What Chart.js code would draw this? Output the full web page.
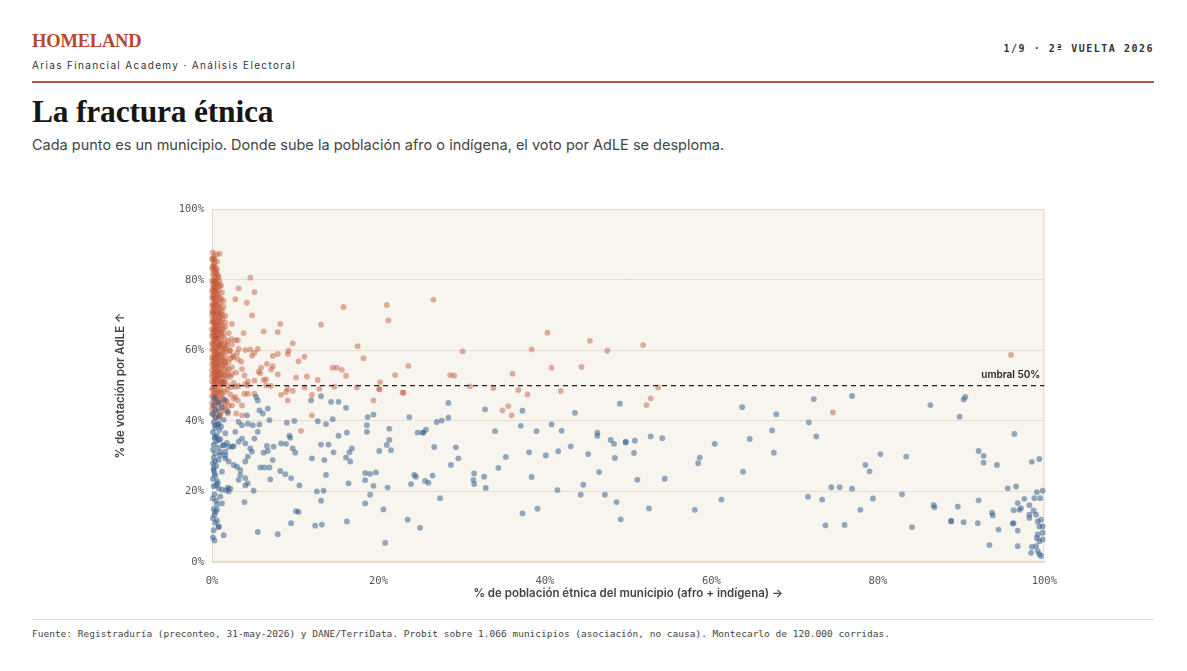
<!DOCTYPE html>
<html lang="es">
<head>
<meta charset="utf-8">
<title>La fractura étnica</title>
<script src="https://cdn.jsdelivr.net/npm/chart.js@4.4.1/dist/chart.umd.min.js"></script>
<style>
  html, body { margin: 0; padding: 0; background: #fff; }
  body { width: 1187px; height: 671px; position: relative; overflow: hidden;
         font-family: Inter, 'Noto Sans', sans-serif; color: #1a1a1a; }
  .brand { position: absolute; left: 32px; top: 31px; font-family: 'Liberation Serif', serif;
           font-weight: 700; font-size: 18.5px; color: #b5482e; letter-spacing: -0.2px; }
  .org { position: absolute; left: 32px; top: 59px; font-size: 10px; letter-spacing: 1.35px; color: #333; }
  .page { position: absolute; right: 33px; top: 43px; font-family: 'DejaVu Sans Mono', monospace;
          font-weight: 700; font-size: 10px; letter-spacing: 1.5px; color: #333; }
  .rule { position: absolute; left: 32px; width: 1122px; top: 81px; height: 2px; background: #b5533c; }
  h1 { position: absolute; left: 32px; top: 94px; margin: 0; font-family: 'Liberation Serif', serif;
       font-size: 31.5px; font-weight: 700; color: #161616; letter-spacing: -0.2px; }
  .sub { position: absolute; left: 32px; top: 136px; font-size: 14.5px; color: #444; }
  .wrap { position: absolute; left: 110px; top: 195px; width: 960px; height: 409px; }
  .foot-rule { position: absolute; left: 32px; width: 1122px; top: 619px; height: 1px; background: #dcdcdc; }
  .foot { position: absolute; left: 32px; top: 628px; font-family: 'DejaVu Sans Mono', monospace;
          font-size: 9.5px; color: #444; }
</style>
</head>
<body>
<div class="brand">HOMELAND</div>
<div class="org">Arias Financial Academy · Análisis Electoral</div>
<div class="page">1/9 · 2ª VUELTA 2026</div>
<div class="rule"></div>
<h1>La fractura étnica</h1>
<div class="sub">Cada punto es un municipio. Donde sube la población afro o indígena, el voto por AdLE se desploma.</div>
<div class="wrap"><canvas id="scatter"></canvas></div>
<div class="foot-rule"></div>
<div class="foot">Fuente: Registraduría (preconteo, 31-may-2026) y DANE/TerriData. Probit sobre 1.066 municipios (asociación, no causa). Montecarlo de 120.000 corridas.</div>

<script>
// ── datos: [% población étnica, % votación AdLE] ──
const ticksX = [0, 20, 40, 60, 80, 100];
const ticksY = [0, 20, 40, 60, 80, 100];
const umbral = 50;

// municipios en naranja (columna densa cerca de 0% + dispersos)
const columnaAdle = [
  [0.1,87.8],[0.5,87.2],[0.9,87.4],[0.2,86.5],[0.1,85.6],[0.3,84.8],[0.1,84.0],[0.4,83.5],[0.2,82.8],[0.5,82.2],
  [0.1,81.6],[0.3,81.0],[0.6,80.5],[0.2,80.0],[0.4,79.4],[0.1,78.9],[0.7,78.6],[0.3,78.2],[1.1,78.4],[0.5,77.7],
  [0.1,77.3],[0.8,77.0],[0.3,76.6],[0.6,76.2],[0.1,75.8],[0.4,75.4],[0.9,75.0],[0.2,74.6],[1.4,74.0],[0.6,74.2],
  [0.3,73.7],[0.1,73.2],[0.8,72.9],[0.5,72.5],[0.2,72.1],[1.0,71.8],[0.4,71.4],[0.7,71.0],[0.1,70.6],[1.2,70.2],
  [0.5,70.0],[1.6,69.8],[0.3,69.5],[0.8,69.1],[0.1,68.7],[0.6,68.3],[1.1,68.0],[1.6,67.9],[0.3,67.6],[0.9,67.2],
  [0.5,66.8],[0.2,66.4],[1.3,66.1],[0.7,65.8],[0.4,65.4],[2.0,64.9],[0.1,65.0],[1.0,64.6],[0.6,64.2],[0.3,63.9],
  [1.5,63.6],[0.8,63.3],[2.3,63.2],[0.2,62.9],[2.8,62.9],[3.1,62.9],[0.5,62.5],[1.2,62.2],[0.9,61.8],[0.1,61.5],
  [1.8,61.3],[0.6,61.0],[0.3,60.6],[1.4,60.4],[2.1,60.0],[0.8,59.8],[0.4,59.4],[1.1,59.1],[0.2,58.7],[2.5,58.5],
  [0.7,58.3],[1.6,58.0],[0.5,57.6],[0.1,57.2],[1.0,57.0],[2.0,56.7],[0.3,56.5],[0.8,56.1],[1.4,55.8],[0.5,55.4],
  [2.4,55.2],[0.2,55.0],[1.1,54.7],[0.7,54.3],[1.8,54.0],[0.4,53.7],[0.1,53.4],[1.3,53.1],[0.9,52.8],[2.2,52.5],
  [0.6,52.3],[0.3,51.9],[1.6,51.6],[1.0,51.3],[0.5,51.0],[2.6,50.8],[0.2,50.6],[1.3,50.4],[0.8,50.2],[1.9,50.1],
  [0.4,49.8],[0.1,49.4],[1.1,49.0],[0.7,48.6],[1.5,48.2],[0.3,47.8],[2.2,47.5],[0.9,47.2],[0.5,46.8],[1.3,46.4],
  [0.2,46.0],[1.8,45.7],[0.7,45.3],[1.1,44.9],[0.4,44.5],[1.5,44.1],[0.8,43.6],[0.3,43.2],[1.2,42.8],[0.6,42.3],
  [1.0,41.8],[0.4,41.2],
  [0.0,86.0],[0.6,85.2],[0.0,83.2],[0.7,81.4],[0.0,79.8],[0.9,79.6],[0.0,76.8],[1.2,76.4],[0.0,74.9],[1.0,73.5],
  [0.0,72.6],[1.4,72.3],[0.0,71.2],[0.9,70.4],[0.0,69.9],[1.3,69.0],[0.0,68.0],[0.4,67.0],[1.6,66.6],[0.0,66.0],
  [1.1,65.3],[0.0,64.0],[0.5,63.5],[1.9,62.6],[0.0,62.0],[1.0,61.2],[2.4,61.7],[0.0,60.2],[1.7,59.5],[0.6,59.0],
  [0.0,58.0],[1.3,57.4],[2.2,57.8],[0.0,56.0],[1.7,55.5],[0.0,54.4],[0.9,54.0],[2.9,53.7],[0.0,52.6],[1.9,52.9],
  [0.4,52.0],[0.0,51.2],[1.4,50.9],[2.3,49.6],[0.0,48.8],[1.8,48.9],[0.5,48.0],[0.0,47.0],[2.6,46.3],[0.9,45.8],
  [0.0,45.0],[2.0,44.3],[0.0,43.5],[1.7,43.0],[0.0,42.0],[0.8,40.8],
  [0.3,85.9],[0.2,83.9],[0.6,83.0],[0.4,81.9],[0.8,80.9],[0.3,79.7],[0.6,79.0],[0.2,77.9],[0.9,78.1],[0.4,77.0],
  [0.7,75.6],[0.2,75.2],[1.1,74.7],[0.5,73.9],[0.3,72.8],[0.7,72.2],[1.2,71.2],[0.2,70.9],[0.6,70.5],[1.0,69.6],
  [0.4,68.9],[0.9,68.4],[0.2,67.9],[0.7,67.4],[1.2,67.0],[0.5,66.2],[0.9,65.9],[0.3,65.6],[1.4,65.0],[0.7,64.8],
  [0.2,64.4],[1.2,63.9],[0.6,63.6],[0.3,62.7],[1.0,62.5],[1.6,62.0],[0.4,61.7],[0.8,61.4],[1.2,60.8],[0.6,60.3],
  [0.2,59.9],[1.4,59.6],[0.9,58.8],[0.4,58.4],[1.2,58.2],[0.3,57.8],[0.8,57.3],[1.5,56.9],[0.6,56.7],[0.2,56.2],
  [1.1,55.9],[0.7,55.6],[0.4,55.1],[1.4,54.5],[0.6,54.1],[0.3,53.6],[1.1,53.3],[0.7,53.0],[0.4,52.6],[1.2,52.1],
  [0.8,51.7],[0.3,51.3],[1.1,50.7],[0.6,50.3],[0.3,49.1],[0.9,48.3],[0.2,47.4],[1.2,47.6],[0.6,46.5],[0.4,45.6]
];

const dispersosAdle = [
  [4.6,80.6],[3.2,77.6],[5.1,76.5],[2.8,74.5],[4.2,73.5],[4.8,69.9],[8.2,67.5],[2.4,67.5],[13.1,67.3],[15.8,72.3],
  [21.0,72.9],[21.2,68.5],[6.2,65.4],[7.9,65.2],[3.8,64.9],[9.7,62.0],[17.5,61.2],[18.2,57.8],[23.6,55.6],[22.0,53.0],
  [14.5,55.1],[15.0,55.1],[15.6,54.5],[16.1,52.8],[12.7,51.6],[20.2,51.0],[23.0,48.0],[11.4,52.6],[10.1,52.3],[9.1,59.0],
  [9.2,59.9],[7.9,59.0],[7.3,58.4],[5.5,60.4],[4.6,60.2],[4.0,60.1],[3.2,60.4],[5.1,59.3],[4.8,58.5],[11.1,58.2],
  [10.4,56.9],[6.6,56.2],[7.1,54.6],[7.3,55.5],[5.9,55.1],[5.6,54.0],[5.8,53.5],[7.9,53.2],[6.5,51.8],[6.2,51.6],
  [5.1,51.4],[4.3,51.2],[3.9,52.9],[3.6,54.7],[3.5,56.8],[3.1,57.5],[3.0,59.2],[9.7,48.5],[9.1,49.1],[6.5,50.1],
  [7.1,49.9],[4.3,50.1],[4.0,50.4],[3.2,49.9],[2.8,49.7],[11.1,49.5],[12.9,49.1],[14.7,49.7],[20.1,49.1],[17.4,49.5],
  [1.6,60.8],[2.2,59.9],[2.6,58.0],[1.6,56.6],[2.0,54.7],[2.4,53.3],[1.6,52.9],[1.4,51.0],
  [8.3,47.4],[8.9,48.2],[9.1,45.8],[12.0,47.4],[12.0,41.6],[10.7,37.2],[19.4,45.8],[22.9,48.0],[20.1,48.9],[2.8,46.8],
  [3.1,45.8],[3.6,44.4],[2.4,44.4],[1.9,42.1],[2.9,42.1],[3.9,47.7],[4.3,47.7],[5.1,47.7],[1.6,45.4],[3.6,41.6],
  [26.6,74.4],[40.3,65.0],[45.4,62.7],[51.8,61.5],[30.1,59.7],[38.4,60.3],[47.5,59.9],[28.6,53.0],[29.1,52.8],[36.1,53.4],
  [40.8,55.1],[44.4,55.3],[31.0,49.8],[33.8,49.3],[36.8,48.8],[37.9,47.5],[41.9,48.5],[53.6,49.5],[52.7,46.4],[52.2,44.5],
  [34.9,43.0],[35.6,44.2],[36.0,41.6],[96.0,58.7],[74.6,42.4]
];

// municipios en azul
const columnaRival = [
  [0.3,46.5],[1.5,46.0],[0.8,45.2],[0.2,44.4],[1.2,43.8],[0.5,43.0],[1.9,42.6],[0.1,42.0],[0.9,41.4],[0.4,40.8],
  [1.4,40.3],[0.2,39.6],[0.7,39.0],[1.1,38.4],[0.4,38.0],[0.9,37.4],[0.1,36.8],[1.6,36.5],[0.6,36.0],[0.3,35.2],
  [1.0,34.8],[0.5,34.2],[1.8,33.8],[0.2,33.3],[1.3,33.0],[0.7,32.4],[2.6,32.8],[0.1,31.8],[1.0,31.2],[0.4,30.8],
  [1.6,30.2],[0.2,29.6],[0.8,29.0],[0.1,28.0],[0.5,27.2],[0.2,26.0],[1.2,25.6],[0.4,24.5],[0.1,23.6],[0.7,22.3],
  [0.2,21.5],[0.3,19.2],[0.1,18.0],[0.5,17.4],[0.2,15.0],[0.4,14.2],[0.1,12.4],[0.6,11.8],[0.2,9.0],[0.1,7.0],
  [0.4,38.8],[0.8,39.2],[0.4,35.5],[0.8,34.6],[1.4,33.2],[2.0,32.7],[2.4,32.7],[1.6,31.3],[1.0,30.3],[0.4,28.5],
  [0.2,26.6],[0.3,25.2],[0.6,23.0],[0.8,20.9],[1.2,20.5],[1.0,18.6],[0.6,16.3],[0.3,13.4],[0.4,11.1],[0.8,10.1],
  [0.3,6.1],[1.4,7.6],[1.9,21.1],[2.0,20.0],[3.2,23.3],[3.4,24.7],[4.0,23.8],[4.3,22.3],[4.0,21.7],[2.6,27.5],
  [3.0,27.0],[3.4,26.1],[2.0,28.5],[1.6,29.4],[4.0,28.5],[4.3,29.9],[4.6,32.2],[4.8,31.3],[3.6,35.0],[4.0,33.6],
  [3.2,34.1],[2.8,36.9],[3.2,39.7],[3.6,38.8],[4.3,39.2],[4.9,38.8],[5.7,39.0],[5.5,36.9],[5.1,35.0],[6.9,40.2],
  [6.1,42.1],[5.7,43.0],[6.7,43.5],[4.2,41.6],[0.6,14.8],[1.2,16.6],[0.5,21.7],[1.7,20.4],[2.2,20.8],[0.8,9.9]
];

const dispersosRival = [
  [5.3,46.8],[5.5,45.8],[11.9,45.8],[13.1,47.0],[14.3,45.4],[15.2,45.4],[16.1,43.7],[18.7,41.1],[19.4,41.8],[23.7,41.1],
  [9.0,39.5],[9.9,40.0],[12.7,39.9],[13.7,39.1],[14.5,40.5],[18.6,38.8],[18.6,36.9],[21.3,37.8],[24.7,36.7],[25.3,36.7],
  [16.2,36.7],[15.2,35.8],[9.3,35.8],[9.4,35.2],[21.3,34.6],[21.0,33.2],[21.5,31.7],[20.1,31.5],[13.1,33.3],[14.0,33.3],
  [14.6,31.1],[16.8,32.2],[16.5,31.1],[8.3,33.6],[8.9,33.5],[9.7,32.2],[10.0,31.0],[7.4,32.7],[6.6,32.9],[6.7,31.5],
  [6.2,31.0],[12.0,29.4],[13.5,28.9],[16.1,29.6],[16.6,28.5],[7.3,28.9],[5.8,26.8],[6.3,26.8],[6.9,26.8],[8.2,25.8],
  [8.8,24.9],[9.5,23.8],[13.7,24.7],[7.0,23.4],[10.5,21.7],[12.6,20.0],[13.4,20.2],[13.1,17.4],[16.4,22.3],[18.4,25.2],
  [19.0,25.0],[19.7,25.4],[18.4,23.2],[19.4,21.6],[21.1,21.1],[19.0,19.1],[18.4,16.6],[20.6,14.9],[20.8,5.4],[23.5,12.0],
  [25.0,9.7],[24.3,24.7],[24.5,24.2],[23.9,22.1],[10.1,14.4],[10.4,14.2],[9.5,11.0],[12.4,10.3],[13.2,10.6],[16.2,11.5],
  [5.5,8.5],[7.9,7.9],[3.9,17.0],[5.0,20.2],
  [28.4,45.1],[32.8,43.3],[37.3,42.9],[43.6,42.3],[49.0,44.9],[27.0,39.7],[27.6,40.1],[28.4,40.9],[25.4,36.7],[25.7,37.5],
  [26.7,32.6],[29.3,32.5],[29.6,29.4],[28.7,27.5],[26.5,24.5],[25.6,23.0],[26.0,22.5],[27.4,18.1],[34.0,37.1],[37.1,38.6],
  [39.0,37.1],[40.8,39.0],[42.0,37.2],[35.3,29.8],[34.4,26.7],[38.1,31.1],[40.1,30.2],[41.6,31.4],[43.1,32.8],[45.2,30.6],
  [46.3,36.7],[46.3,35.8],[47.9,34.6],[48.3,33.5],[48.4,29.5],[49.7,33.9],[49.7,34.1],[50.8,34.4],[50.7,30.9],[52.7,35.6],
  [54.1,35.1],[31.5,25.1],[31.4,23.3],[31.5,22.1],[32.7,24.2],[32.9,21.0],[38.4,24.1],[41.5,20.4],[44.3,19.1],[44.6,21.9],
  [46.5,25.5],[47.2,19.1],[48.6,17.0],[49.1,12.1],[51.1,23.3],[52.5,15.2],[54.4,23.6],[37.3,13.8],[39.1,15.1],[58.0,14.8],
  [58.4,28.0],[58.6,29.6],[60.4,33.5],[61.2,17.7],
  [63.7,43.9],[64.6,34.9],[63.8,25.6],[67.8,41.9],[67.3,37.3],[67.5,31.0],[72.3,46.2],[71.7,39.6],[72.6,35.6],[76.9,47.1],
  [71.6,18.5],[73.3,17.7],[74.4,21.2],[75.4,21.2],[76.9,20.8],[73.7,10.4],[76.0,10.5],[77.9,14.8],[79.4,18.0],[78.5,27.5],
  [79.0,25.7],[80.3,30.6],[83.4,29.9],[82.9,19.2],[84.1,9.9],[86.3,44.5],[89.8,41.2],[90.3,46.1],[90.5,46.8],[86.7,16.1],
  [86.8,15.5],[88.8,11.7],[88.8,11.5],[89.6,15.7],[90.3,11.3],[92.0,11.0],[92.1,17.5],[92.1,31.5],[92.7,30.1],[92.7,28.2],
  [94.3,27.5],[93.4,4.8],[93.7,14.0],[93.8,13.2],[94.5,9.2],[96.4,36.3],[95.6,20.9],[96.6,21.4],[97.6,17.9],[98.2,16.1],
  [98.8,18.1],[99.1,19.8],[99.5,18.1],[99.8,20.2],[98.5,28.4],[99.4,29.2],[96.3,14.7],[97.0,14.8],[97.2,15.3],[96.8,16.7],
  [96.2,10.9],[96.3,11.0],[96.8,8.9],[96.8,4.5],[98.2,13.4],[98.2,12.5],[99.0,13.4],[98.7,14.6],[99.2,11.5],[99.6,12.0],
  [99.4,10.1],[99.8,10.1],[99.8,8.3],[99.2,7.8],[99.1,6.8],[99.4,5.9],[99.0,4.5],[98.5,4.3],[98.4,2.6],[99.2,3.1],
  [99.4,2.2],[99.6,1.7],[99.8,6.4]
];

const toXY = arr => arr.map(p => ({ x: p[0], y: p[1] }));

const MONO = "'DejaVu Sans Mono', monospace";

// fondo crema + marco del área de trazado + etiqueta del umbral
const fondoPlugin = {
  id: 'fondo',
  beforeDraw(chart) {
    const { ctx, chartArea: a } = chart;
    ctx.save();
    ctx.fillStyle = '#f8f4ee';
    ctx.fillRect(a.left, a.top, a.right - a.left, a.bottom - a.top);
    ctx.restore();
  },
  beforeDatasetsDraw(chart) {
    const { ctx, chartArea: a } = chart;
    ctx.save();
    ctx.strokeStyle = '#e3d9ca';
    ctx.lineWidth = 1;
    ctx.strokeRect(a.left + 0.5, a.top + 0.5, a.right - a.left - 1, a.bottom - a.top - 1);
    ctx.restore();
  },
  afterDatasetsDraw(chart) {
    const { ctx, scales } = chart;
    const x = scales.x.getPixelForValue(100) - 4;
    const y = scales.y.getPixelForValue(umbral) - 6;
    ctx.save();
    ctx.font = "600 10px Inter, sans-serif";
    ctx.fillStyle = '#222';
    ctx.textAlign = 'right';
    ctx.textBaseline = 'bottom';
    ctx.fillText('umbral 50%', x, y);
    ctx.restore();
  }
};

new Chart(document.getElementById('scatter'), {
  type: 'scatter',
  data: {
    datasets: [
      {
        label: 'umbral',
        type: 'line',
        data: [{ x: 0, y: umbral }, { x: 100, y: umbral }],
        borderColor: '#222',
        borderWidth: 1.3,
        borderDash: [5, 4],
        pointRadius: 0,
        order: 0
      },
      {
        label: 'AdLE',
        data: toXY(columnaAdle.concat(dispersosAdle)),
        backgroundColor: 'rgba(192,80,46,0.45)',
        borderWidth: 0,
        pointRadius: 2.9,
        order: 2
      },
      {
        label: 'Rival',
        data: toXY(columnaRival.concat(dispersosRival)),
        backgroundColor: 'rgba(40,88,140,0.5)',
        borderWidth: 0,
        pointRadius: 2.9,
        order: 1
      }
    ]
  },
  options: {
    responsive: true,
    maintainAspectRatio: false,
    animation: false,
    clip: false,
    layout: { padding: { top: 7, right: 15, left: 0, bottom: 0 } },
    plugins: { legend: { display: false }, tooltip: { enabled: false } },
    scales: {
      x: {
        type: 'linear', min: 0, max: 100,
        afterFit: s => { s.height = 42; },
        afterBuildTicks: s => { s.ticks = ticksX.map(v => ({ value: v })); },
        grid: { display: false, drawTicks: false },
        border: { display: false },
        ticks: { padding: 13, color: '#555', font: { family: MONO, size: 10.5 }, callback: v => v + '%', maxRotation: 0 },
        title: { display: true, text: '% de población étnica del municipio (afro + indígena) →',
                 color: '#444', font: { family: 'Inter', size: 11.5, weight: '600' } }
      },
      y: {
        type: 'linear', min: 0, max: 100,
        afterFit: s => { s.width = 102; },
        afterBuildTicks: s => { s.ticks = ticksY.map(v => ({ value: v })); },
        grid: { color: '#e8dfd2', drawTicks: false },
        border: { display: false },
        ticks: { padding: 8, color: '#555', font: { family: MONO, size: 10.5 }, callback: v => v + '%' },
        title: { display: true, text: '% de votación por AdLE ↑',
                 color: '#444', font: { family: 'Inter', size: 11.5, weight: '600' } }
      }
    }
  },
  plugins: [fondoPlugin]
});
</script>
</body>
</html>
